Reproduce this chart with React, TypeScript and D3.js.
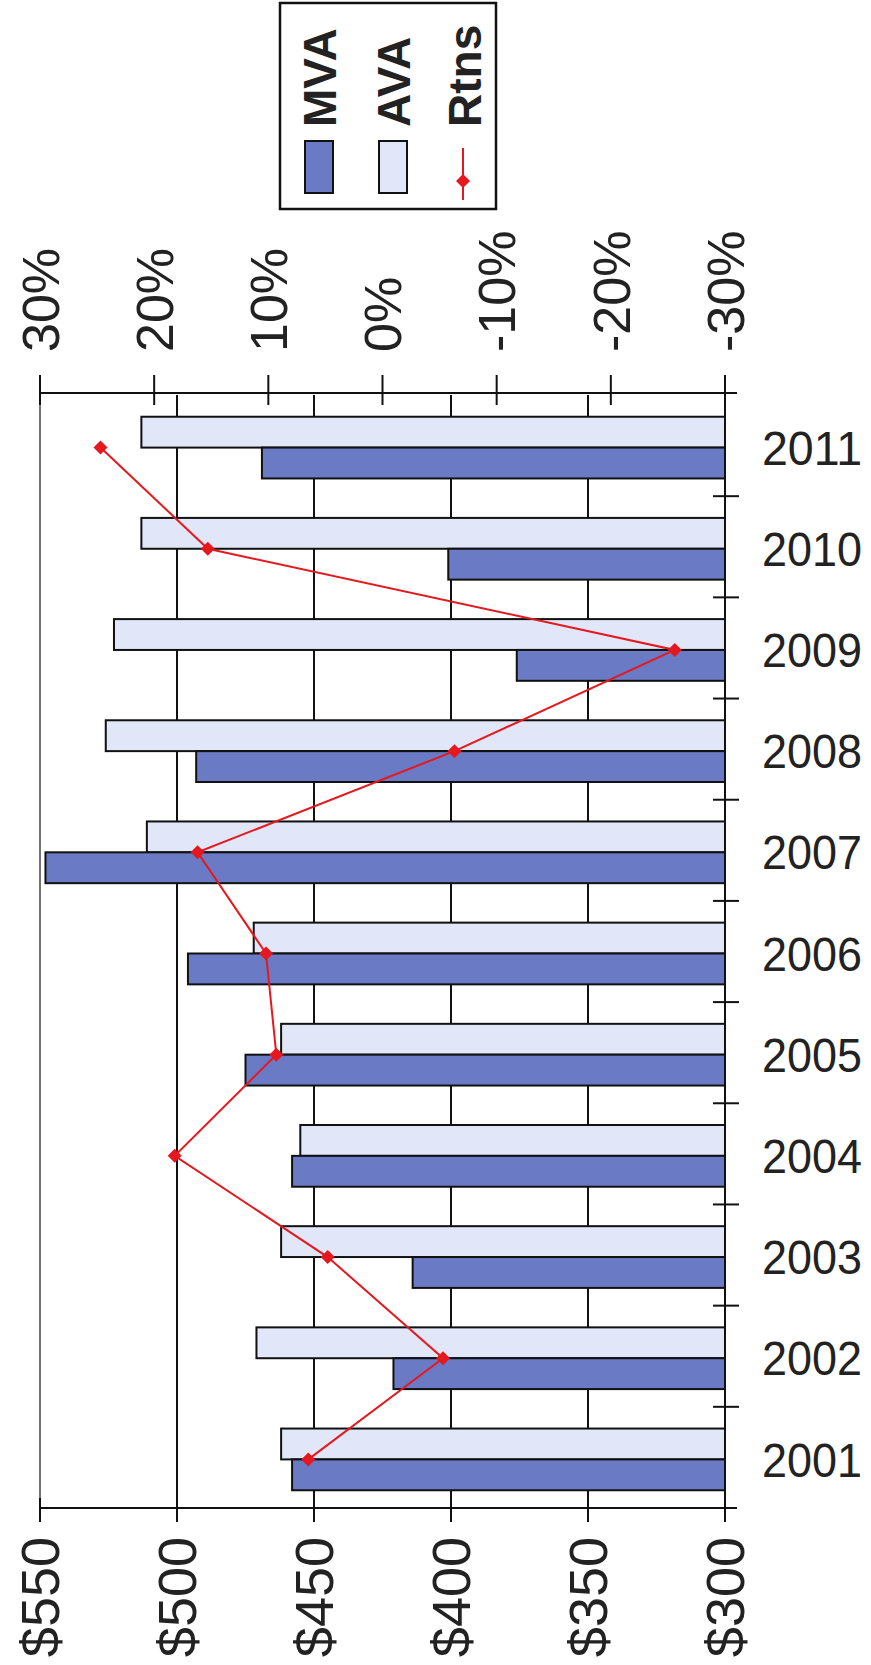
import React from "react";
import * as d3 from "d3";

// values (years run bottom -> top)
const years = ["2001", "2002", "2003", "2004", "2005", "2006", "2007", "2008", "2009", "2010", "2011"];
const mva = [458, 421, 414, 458, 475, 496, 548, 493, 376, 401, 469];
const ava = [462, 471, 462, 455, 462, 472, 511, 526, 523, 513, 513];
const rtns = [6.5, -5.3, 4.8, 18.2, 9.3, 10.2, 16.2, -6.3, -25.6, 15.3, 24.7];
const dollarTicks = [550, 500, 450, 400, 350, 300];
const pctTicks = [30, 20, 10, 0, -10, -20, -30];

const W = 871;
const H = 1665;
const FONT = "'Liberation Sans', Arial, sans-serif";
const MVA_COLOR = "#6b7ac4";
const AVA_COLOR = "#e1e6f8";
const LINE_COLOR = "#e4181e";

const App = () => {
  // plot frame
  const left = 40;
  const right = 725;
  const top = 395;
  const bottom = 1508;

  const x = d3.scaleLinear().domain([550, 300]).range([left, right]);
  const xPct = d3.scaleLinear().domain([30, -30]).range([left, right]);

  // 2011 at the top, 2001 at the bottom
  const y = d3
    .scaleBand()
    .domain([...years].reverse())
    .range([top, bottom])
    .paddingInner(0.39)
    .paddingOuter(0.195);
  const step = y.step();
  const barH = y.bandwidth() / 2;

  const points = years.map((yr, i) => [xPct(rtns[i]), (y(yr) as number) + barH + 2] as [number, number]);
  const line = d3.line();

  const diamond = (cx: number, cy: number, r: number) =>
    `M${cx},${cy - r}L${cx + r},${cy}L${cx},${cy + r}L${cx - r},${cy}Z`;

  return (
    <svg width={W} height={H} style={{ position: "absolute", left: 0, top: 0, background: "#fff" }}>
      {/* gridlines */}
      {dollarTicks.slice(1, -1).map((t) => (
        <line key={t} x1={x(t)} x2={x(t)} y1={top} y2={bottom} stroke="#111" strokeWidth={2} />
      ))}
      <line x1={left} x2={left} y1={top} y2={bottom} stroke="#444" strokeWidth={1.5} />

      {/* bars */}
      {years.map((yr, i) => {
        const y0 = (y(yr) as number) + 2;
        return (
          <g key={yr}>
            <rect
              x={x(ava[i])}
              y={y0}
              width={x(300) - x(ava[i])}
              height={barH}
              fill={AVA_COLOR}
              stroke="#111"
              strokeWidth={2}
            />
            <rect
              x={x(mva[i])}
              y={y0 + barH}
              width={x(300) - x(mva[i])}
              height={barH}
              fill={MVA_COLOR}
              stroke="#111"
              strokeWidth={2}
            />
          </g>
        );
      })}

      {/* returns line */}
      <path d={line(points) || ""} fill="none" stroke={LINE_COLOR} strokeWidth={2} />
      {points.map((p, i) => (
        <path key={i} d={diamond(p[0], p[1], 7)} fill={LINE_COLOR} />
      ))}

      {/* category axis on the right */}
      <line x1={right} x2={right} y1={top} y2={bottom + 10} stroke="#111" strokeWidth={2} />
      {d3.range(1, years.length).map((k) => (
        <line key={k} x1={right - 12} x2={right + 14} y1={top + k * step} y2={top + k * step} stroke="#111" strokeWidth={2} />
      ))}
      {years.map((yr) => (
        <text
          key={yr}
          x={762}
          y={(y(yr) as number) + y.bandwidth() / 2 + 2}
          dy="0.35em"
          fontFamily={FONT}
          fontSize={49}
          textLength={100}
          lengthAdjust="spacingAndGlyphs"
          fill="#222"
        >
          {yr}
        </text>
      ))}

      {/* dollar axis at the bottom */}
      <line x1={left} x2={right + 12} y1={bottom} y2={bottom} stroke="#111" strokeWidth={2} />
      {dollarTicks.map((t) => (
        <g key={t}>
          <line x1={x(t)} x2={x(t)} y1={bottom - 10} y2={bottom + 14} stroke="#111" strokeWidth={2} />
          <text
            transform={`translate(${x(t)},${1537}) rotate(-90)`}
            dy="0.36em"
            textAnchor="end"
            fontFamily={FONT}
            fontSize={54}
            fill="#222"
          >
            {"$" + t}
          </text>
        </g>
      ))}

      {/* percent axis at the top */}
      <line x1={left} x2={right + 12} y1={top - 2} y2={top - 2} stroke="#111" strokeWidth={2} />
      {pctTicks.map((t) => (
        <g key={t}>
          <line x1={xPct(t)} x2={xPct(t)} y1={top - 20} y2={top + 10} stroke="#111" strokeWidth={2} />
          <text
            transform={`translate(${xPct(t)},${352}) rotate(-90)`}
            dy="0.36em"
            textAnchor="start"
            fontFamily={FONT}
            fontSize={52}
            fill="#222"
          >
            {t + "%"}
          </text>
        </g>
      ))}

      {/* legend */}
      <g>
        <rect x={280} y={3} width={216} height={206} fill="#fff" stroke="#111" strokeWidth={2.5} />
        <rect x={305} y={141} width={28} height={52} fill={MVA_COLOR} stroke="#111" strokeWidth={2} />
        <rect x={379} y={141} width={28} height={52} fill={AVA_COLOR} stroke="#111" strokeWidth={2} />
        <line x1={463} x2={463} y1={148} y2={200} stroke={LINE_COLOR} strokeWidth={2} />
        <path d={diamond(463, 181, 7)} fill={LINE_COLOR} />
        {[
          { label: "MVA", cx: 319 },
          { label: "AVA", cx: 393 },
          { label: "Rtns", cx: 464 },
        ].map((d) => (
          <text
            key={d.label}
            transform={`translate(${d.cx},${127}) rotate(-90)`}
            dy="0.36em"
            textAnchor="start"
            fontFamily={FONT}
            fontWeight="bold"
            fontSize={46}
            fill="#222"
          >
            {d.label}
          </text>
        ))}
      </g>
    </svg>
  );
};

export default App;
